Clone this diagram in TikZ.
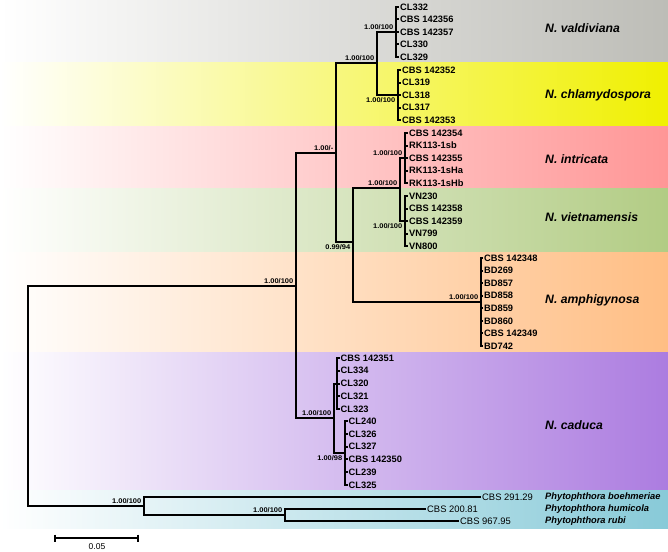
\documentclass[tikz,border=0pt]{standalone}
\usepackage{fontspec}
\setmainfont{Liberation Sans}
\newfontfamily\supfont[FakeStretch=1.1]{Liberation Sans}
\definecolor{cgrey}{RGB}{189,189,183}
\definecolor{cyel}{RGB}{240,240,0}
\definecolor{cpink}{RGB}{255,150,150}
\definecolor{cgreen}{RGB}{178,204,132}
\definecolor{corange}{RGB}{255,190,132}
\definecolor{cpurple}{RGB}{172,124,224}
\definecolor{ccyan}{RGB}{136,202,216}
\tikzset{
  br/.style={line width=2pt, black},
  tip/.style={anchor=west, inner sep=1pt, font=\bfseries\fontsize{9.3}{10}\selectfont},
  otip/.style={anchor=west, inner sep=1pt, font=\fontsize{9.4}{10}\selectfont},
  sp/.style={anchor=west, inner sep=1pt, font=\bfseries\itshape\fontsize{9.3}{10}\selectfont},
  supa/.style={anchor=south east, inner sep=0.5pt, xshift=-2pt, yshift=1.8pt, font=\supfont\bfseries\fontsize{6.8}{7}\selectfont},
  supb/.style={anchor=north east, inner sep=0.5pt, xshift=-2pt, yshift=-1.8pt, font=\supfont\bfseries\fontsize{6.8}{7}\selectfont},
  clade/.style={anchor=west, inner sep=0pt, font=\bfseries\itshape\fontsize{12.2}{14}\selectfont},
}
\begin{document}
\begin{tikzpicture}[x=1pt,y=-1pt]
\useasboundingbox (0,0) rectangle (668,551);
% bands
\shade[left color=white,right color=cgrey] (0,0) rectangle (668,62);
\shade[left color=white,right color=cyel] (0,62) rectangle (668,126);
\shade[left color=white,right color=cpink] (0,126) rectangle (668,188);
\shade[left color=white,right color=cgreen] (0,188) rectangle (668,252);
\shade[left color=white,right color=corange] (0,252) rectangle (668,352);
\shade[left color=white,right color=cpurple] (0,352) rectangle (668,490);
\shade[left color=white,right color=ccyan] (0,490) rectangle (668,528);
% internal nodes
\coordinate (R) at (28,396);
\coordinate (I) at (296,286);
\coordinate (B) at (336,153);
\coordinate (VC) at (377,63);
\coordinate (V) at (396,32);
\coordinate (Ch) at (398,95);
\coordinate (C) at (353,242);
\coordinate (IV) at (400,188);
\coordinate (In) at (405,158);
\coordinate (Vi) at (405,221);
\coordinate (Am) at (481,302);
\coordinate (Ca) at (334,418);
\coordinate (Ca1) at (337,383.5);
\coordinate (Ca2) at (345,453);
\coordinate (O) at (144,506);
\coordinate (HR) at (285,515);
% branches
\draw[br] (R) |- (I);
\draw[br] (R) |- (O);
\draw[br] (I) |- (B);
\draw[br] (I) |- (Ca);
\draw[br] (B) |- (VC);
\draw[br] (B) |- (C);
\draw[br] (VC) |- (V);
\draw[br] (VC) |- (Ch);
\draw[br] (C) |- (IV);
\draw[br] (C) |- (Am);
\draw[br] (IV) |- (In);
\draw[br] (IV) |- (Vi);
\draw[br] (Ca) |- (Ca1);
\draw[br] (Ca) |- (Ca2);
\draw[br] (O) |- (HR);
% tips
\foreach \t [count=\i from 0] in {CL332,CBS 142356,CBS 142357,CL330,CL329}
  {\node[tip] (v\i) at (399,{7+12.5*\i}) {\t}; \draw[br] (V) |- (v\i.west);}
\foreach \t [count=\i from 0] in {CBS 142352,CL319,CL318,CL317,CBS 142353}
  {\node[tip] (c\i) at (401,{70+12.5*\i}) {\t}; \draw[br] (Ch) |- (c\i.west);}
\foreach \t [count=\i from 0] in {CBS 142354,RK113-1sb,CBS 142355,RK113-1sHa,RK113-1sHb}
  {\node[tip] (n\i) at (408,{133+12.5*\i}) {\t}; \draw[br] (In) |- (n\i.west);}
\foreach \t [count=\i from 0] in {VN230,CBS 142358,CBS 142359,VN799,VN800}
  {\node[tip] (w\i) at (408,{196+12.5*\i}) {\t}; \draw[br] (Vi) |- (w\i.west);}
\foreach \t [count=\i from 0] in {CBS 142348,BD269,BD857,BD858,BD859,BD860,CBS 142349,BD742}
  {\node[tip] (a\i) at (483,{258+12.571*\i}) {\t}; \draw[br] (Am) |- (a\i.west);}
\foreach \t [count=\i from 0] in {CBS 142351,CL334,CL320,CL321,CL323}
  {\node[tip] (k\i) at (339.5,{358+12.75*\i}) {\t}; \draw[br] (Ca1) |- (k\i.west);}
\foreach \t [count=\i from 0] in {CL240,CL326,CL327,CBS 142350,CL239,CL325}
  {\node[tip] (m\i) at (347.5,{421+12.8*\i}) {\t}; \draw[br] (Ca2) |- (m\i.west);}
% outgroup tips
\node[otip] (o1) at (481,497) {CBS 291.29};
\node[otip] (o2) at (426,509) {CBS 200.81};
\node[otip] (o3) at (459,521) {CBS 967.95};
\draw[br] (O) |- (o1.west);
\draw[br] (HR) |- (o2.west);
\draw[br] (HR) |- (o3.west);
\node[sp] (s1) at (544,497) {Phytophthora boehmeriae};
\node[sp] (s2) at (544,509) {Phytophthora humicola};
\node[sp] (s3) at (544,521) {Phytophthora rubi};
% support values
\node[supa] (lI) at (I) {1.00/100};
\node[supa] (lB) at (B) {1.00/-};
\node[supa] (lVC) at (VC) {1.00/100};
\node[supa] (lV) at (V) {1.00/100};
\node[supb] (lCh) at (Ch) {1.00/100};
\node[supb] (lC) at (C) {0.99/94};
\node[supa] (lIV) at (IV) {1.00/100};
\node[supa] (lIn) at (In) {1.00/100};
\node[supb] (lVi) at (Vi) {1.00/100};
\node[supa] (lAm) at (Am) {1.00/100};
\node[supa] (lCa) at (Ca) {1.00/100};
\node[supb] (lCa2) at (Ca2) {1.00/98};
\node[supa] (lO) at (O) {1.00/100};
\node[supa] (lHR) at (HR) {1.00/100};
% clade names
\node[clade] (nV) at (545,28) {N. valdiviana};
\node[clade] (nC) at (545,95) {N. chlamydospora};
\node[clade] (nI) at (545,159) {N. intricata};
\node[clade] (nW) at (545,217) {N. vietnamensis};
\node[clade] (nA) at (545,300) {N. amphigynosa};
\node[clade] (nK) at (545,425) {N. caduca};
% scale bar
\coordinate (sb1) at (55,538);
\coordinate (sb2) at (138,538);
\draw[line width=1.6pt] (sb1) -- (sb2);
\draw[line width=1.2pt] ([yshift=3.5pt]sb1) -- ([yshift=-3.5pt]sb1);
\draw[line width=1.2pt] ([yshift=3.5pt]sb2) -- ([yshift=-3.5pt]sb2);
\node[font=\fontsize{8.5}{9}\selectfont, inner sep=0pt] (sbl) at (97,546.5) {0.05};
\end{tikzpicture}
\end{document}
